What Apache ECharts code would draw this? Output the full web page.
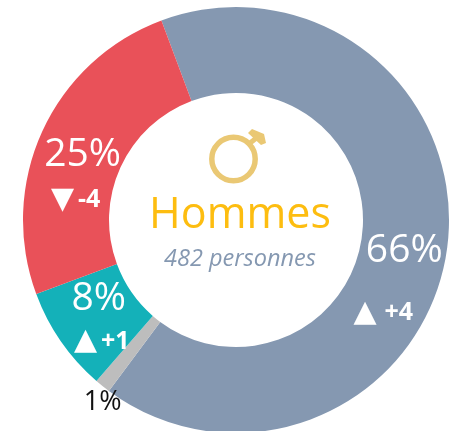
<!DOCTYPE html>
<html><head><meta charset="utf-8">
<style>html,body{margin:0;padding:0;background:#fff}#c{width:449px;height:431px}</style>
<script src="https://cdn.jsdelivr.net/npm/echarts@6/dist/echarts.min.js"></script></head>
<body><div id="c"></div>
<script>
const categories = ['Bleu', 'Gris', 'Turquoise', 'Rouge'];
const percents = [66, 1.2, 8, 25];
const deltas = ['+4', '', '+1', '-4'];
const arrows = ['▲', '', '▲', '▼'];
const colors = ['#8598b1', '#bdbdbd', '#14b1b9', '#e95159'];
const title = 'Hommes';
const subtitle = '482 personnes';
const labelOffsets = [[-3, 22], [-25, 47], [5, -5], [4, 22]];
const rowGaps = [62, 0, 43, 45];
const rowShifts = [-21, 0, 3, -7];
const rowSpacing = [8, 0, 4, 4];
const FONT = '"Open Sans"';
const chart = echarts.init(document.getElementById('c'), null, {renderer: 'canvas'});
chart.setOption({
  animation: false,
  series: [{
    type: 'pie', center: [236, 220], radius: [127, 213], startAngle: 110.5, clockwise: true,
    silent: true, avoidLabelOverlap: false, minAngle: 0,
    data: categories.map((name, i) => ({
      name, value: percents[i], itemStyle: {color: colors[i]},
      label: {
        position: 'inside', offset: labelOffsets[i], color: deltas[i] ? '#fff' : '#111',
        formatter: deltas[i]
          ? `{p|${Math.round(percents[i])}%}\n{a|${arrows[i]}}{d|${deltas[i]}}`
          : `{q|${Math.round(percents[i])}%}`,
        rich: {
          p: {fontFamily: FONT, fontSize: 39, color: '#fff', lineHeight: 2 * rowGaps[i] - 30, align: 'center'},
          q: {fontFamily: FONT, fontSize: 27, color: '#111', align: 'center'},
          a: {fontFamily: 'DejaVu Sans', fontSize: 30, color: '#fff', lineHeight: 30,
              padding: [0, rowSpacing[i], 0, Math.max(0, 2 * rowShifts[i])]},
          d: {fontFamily: FONT, fontSize: 25, fontWeight: 'bold', color: '#fff', lineHeight: 30,
              padding: [0, Math.max(0, -2 * rowShifts[i]), 0, 0]}
        }
      }
    })),
    labelLine: {show: false}
  }],
  graphic: [
    {type: 'text', style: {text: title, x: 240, y: 216, align: 'center', verticalAlign: 'middle', font: '43px ' + FONT, fill: '#fdbd10'}},
    {type: 'text', style: {text: subtitle, x: 240, y: 259, align: 'center', verticalAlign: 'middle', font: 'italic 23.5px ' + FONT, fill: '#8598b1'}},
    {type: 'circle', shape: {cx: 233.5, cy: 159, r: 21.7}, style: {fill: 'none', stroke: '#eac874', lineWidth: 5.5}},
    {type: 'line', shape: {x1: 250, y1: 143, x2: 259, y2: 136}, style: {stroke: '#eac874', lineWidth: 5}},
    {type: 'polygon', shape: {points: [[248, 133], [252, 129], [264, 134], [266, 143], [261, 145]]}, style: {fill: '#eac874'}}
  ]
});
</script></body></html>
